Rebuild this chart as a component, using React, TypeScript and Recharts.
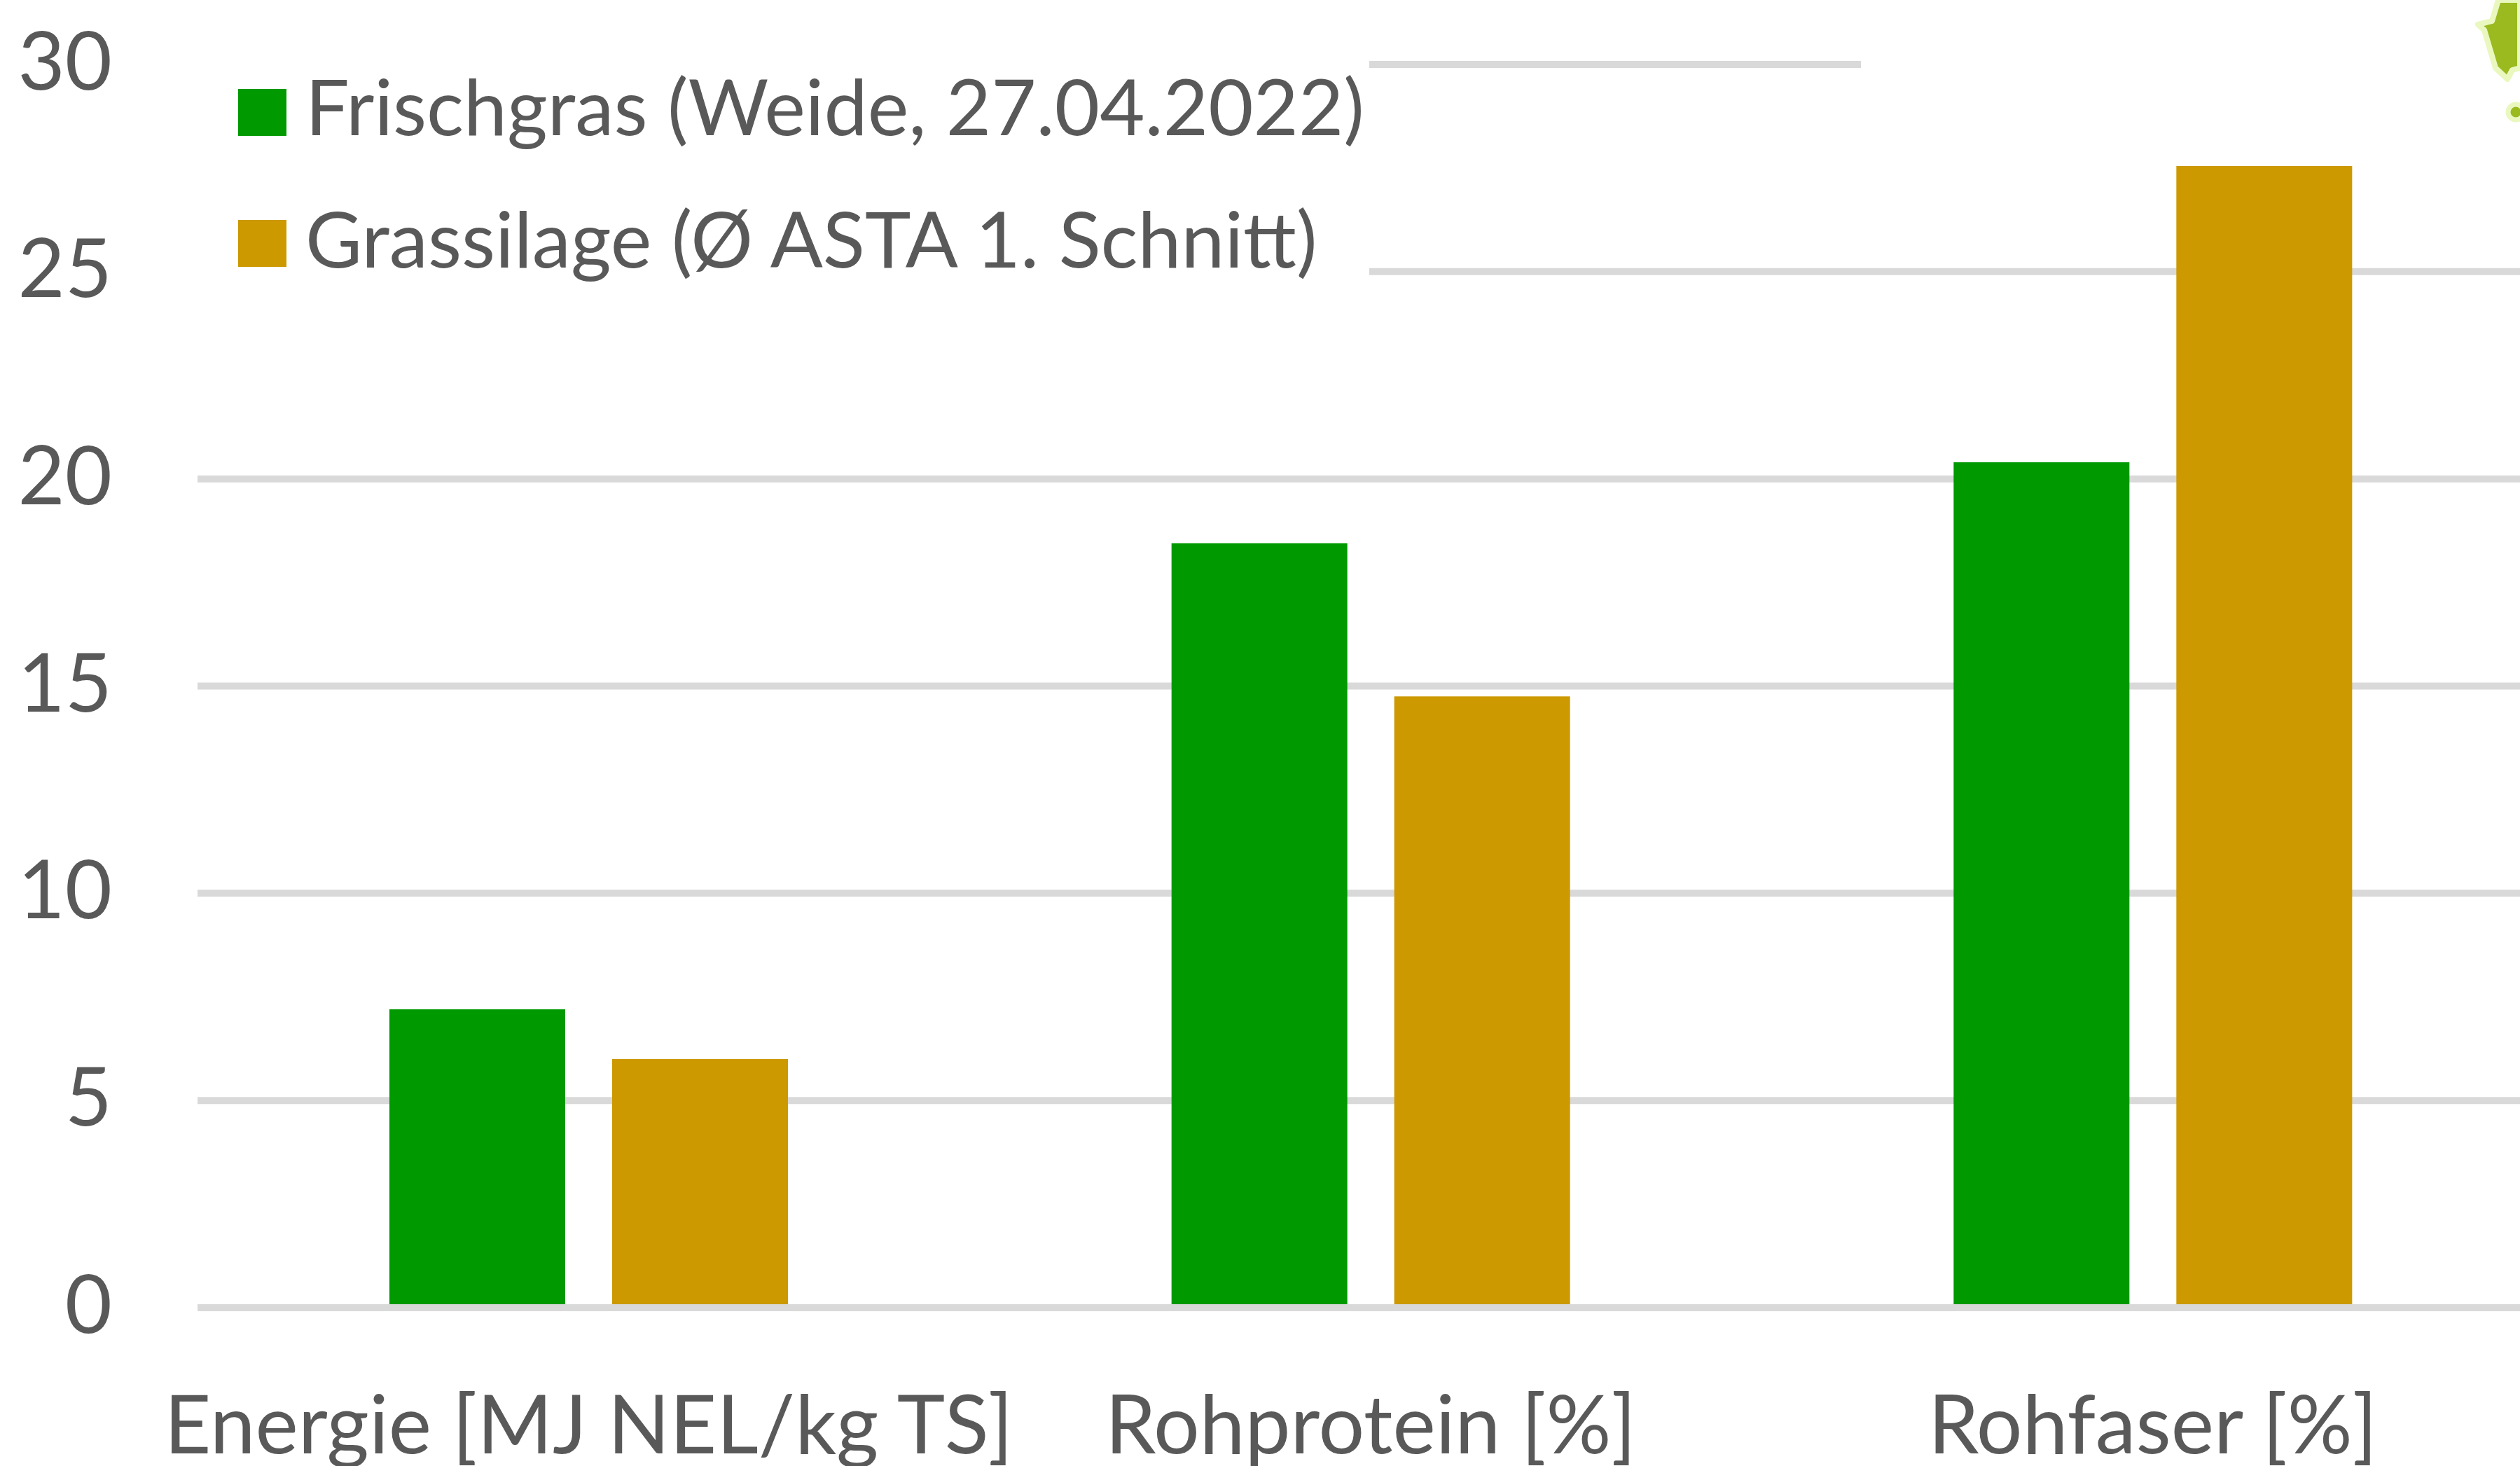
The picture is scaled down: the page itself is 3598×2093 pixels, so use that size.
import React from 'react';
import { BarChart, Bar, XAxis, YAxis, CartesianGrid, Legend, ReferenceLine } from 'recharts';

const categories = ['Energie [MJ NEL/kg TS]', 'Rohprotein [%]', 'Rohfaser [%]'];
const frischgras = [7.2, 18.45, 20.4];
const grassilage = [6.0, 14.75, 27.55];
const seriesNames = ['Frischgras (Weide, 27.04.2022)', 'Grassilage (Ø ASTA 1. Schnitt)'];
const seriesColors = ['#009900', '#CC9900'];
const yTicks = [0, 5, 10, 15, 20, 25, 30];

const data = categories.map((c, i) => ({ name: c, frischgras: frischgras[i], grassilage: grassilage[i] }));

const FONT = 'Lato, "Open Sans", sans-serif';
const TEXT = '#595959';
const FS = 116;
const LFS = 111;
const GRID = '#D9D9D9';

const XTick = (props: any) => {
  const { x, y, payload } = props;
  return (
    <text x={x} y={y} textAnchor="middle" fontFamily={FONT} fontSize={FS} fill={TEXT}>
      {payload.value}
    </text>
  );
};

const YTick = (props: any) => {
  const { x, y, payload } = props;
  return (
    <text x={x} y={y + 36} textAnchor="end" fontFamily={FONT} fontSize={FS} fill={TEXT}>
      {payload.value}
    </text>
  );
};

const LegendContent = (props: any) => {
  const payload = props.payload || [];
  return (
    <svg width={1673} height={370} style={{ display: 'block', background: '#fff', overflow: 'visible' }}>
      <rect x={0} y={0} width={1673} height={370} fill="#fff" />
      {payload.map((p: any, i: number) => (
        <g key={i}>
          <rect x={58} y={i === 0 ? 72 : 259} width={69} height={67} fill={p.color} />
          <text x={154} y={i === 0 ? 138 : 327} fontFamily={FONT} fontSize={LFS} fill={TEXT}>
            {p.value}
          </text>
        </g>
      ))}
    </svg>
  );
};

export default function App() {
  return (
    <div style={{ position: 'fixed', left: 0, top: 0, width: 3598, height: 2093, overflow: 'hidden', background: '#fff' }}>
      <BarChart
        width={3640}
        height={2093}
        data={data}
        margin={{ top: 92, right: 8, bottom: 0, left: 0 }}
        barSize={251}
        barGap={67}
      >
        <CartesianGrid vertical={false} stroke={GRID} strokeWidth={10} />
        <XAxis
          dataKey="name"
          height={226}
          axisLine={false}
          tickLine={false}
          tickSize={0}
          tickMargin={208}
          interval={0}
          tick={<XTick />}
        />
        <YAxis
          width={282}
          domain={[0, 30]}
          ticks={yTicks}
          interval={0}
          axisLine={false}
          tickLine={false}
          tickSize={0}
          tickMargin={122}
          tick={<YTick />}
        />
        <Legend
          layout="horizontal"
          verticalAlign="middle"
          align="center"
          wrapperStyle={{ left: 282, top: 55, width: 1673, height: 370 }}
          content={<LegendContent />}
        />
        <Bar dataKey="frischgras" name={seriesNames[0]} fill={seriesColors[0]} isAnimationActive={false} />
        <Bar dataKey="grassilage" name={seriesNames[1]} fill={seriesColors[1]} isAnimationActive={false} />
        <ReferenceLine y={0} stroke={GRID} strokeWidth={10} />
      </BarChart>
      <div style={{ position: 'absolute', left: 2657, top: 78, width: 941, height: 28, background: '#fff' }} />
      <svg style={{ position: 'absolute', left: 3500, top: 0 }} width={98} height={190}>
        <path
          d="M67,0 L58,30 L38,35 L47,43 L55,70 L63,97 L80,113 L87,100 L98,97 L98,0 Z"
          fill="#9ABA1F"
          stroke="#EAF8C0"
          strokeWidth={8}
          strokeLinejoin="round"
        />
        <circle cx={92} cy={160} r={11} fill="#9ABA1F" stroke="#EAF8C0" strokeWidth={7} />
      </svg>
    </div>
  );
}
